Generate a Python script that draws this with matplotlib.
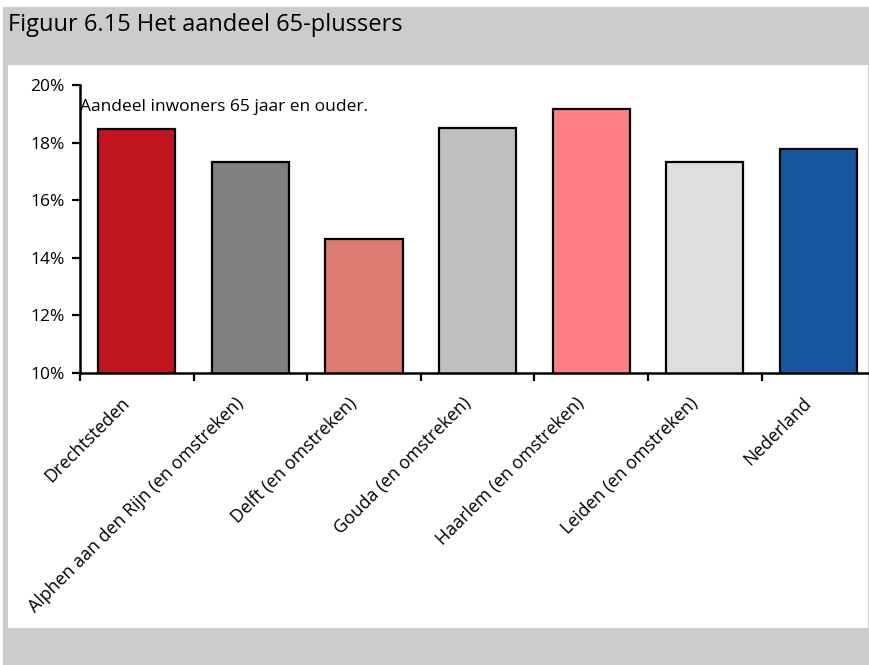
import matplotlib
matplotlib.use("Agg")
import matplotlib.pyplot as plt
from matplotlib.patches import Rectangle
from matplotlib.ticker import FuncFormatter
from matplotlib.transforms import ScaledTranslation

# Data
categories = [
    "Drechtsteden",
    "Alphen aan den Rijn (en omstreken)",
    "Delft (en omstreken)",
    "Gouda (en omstreken)",
    "Haarlem (en omstreken)",
    "Leiden (en omstreken)",
    "Nederland",
]
share_65plus = [18.46, 17.34, 14.66, 18.50, 19.18, 17.34, 17.79]
colors = ["#C0141E", "#808080", "#DC7B70", "#C0C0C0", "#FF8084", "#DEDEDE", "#17569C"]

plt.rcParams["font.family"] = ["Open Sans", "DejaVu Sans"]

W, H = 870, 665
fig = plt.figure(figsize=(W / 100, H / 100), dpi=100, facecolor="white")

# gray frame and white panel
fig.patches.append(Rectangle((3 / W, 0), 1 - 3 / W, 1 - 7 / H, transform=fig.transFigure,
                             facecolor="#CCCCCC", edgecolor="none", zorder=-2))
fig.patches.append(Rectangle((8 / W, 1 - 628 / H), 860 / W, (628 - 65) / H, transform=fig.transFigure,
                             facecolor="white", edgecolor="none", zorder=-1))
fig.text(8 / W, 1 - 25 / H, "Figuur 6.15 Het aandeel 65-plussers", fontsize=17,
         ha="left", va="center", color="black")

ax = fig.add_axes([80 / W, 1 - 373 / H, 788 / W, 288 / H], zorder=2)
ax.set_facecolor("none")
x = list(range(len(categories)))
ax.bar(x, share_65plus, width=0.68, bottom=0, color=colors, edgecolor="black", linewidth=1.6, zorder=2)

ax.set_ylim(10, 20)
ax.set_xlim(-0.5, -0.5 + 788 / 113.6)
ax.set_yticks([10, 12, 14, 16, 18, 20])
ax.yaxis.set_major_formatter(FuncFormatter(lambda v, p: f"{v:.0f}%"))

# tick marks between categories, labels under bar centres
ax.set_xticks([i - 0.5 for i in x])
ax.set_xticklabels([])
lbl_tr = ax.get_xaxis_transform() + ScaledTranslation(-16 / 100, -21 / 100, fig.dpi_scale_trans)
for i, name in zip(x, categories):
    ax.text(i, 0, name, transform=lbl_tr, rotation=45, rotation_mode="anchor",
            ha="right", va="top", fontsize=12.8)

ax.tick_params(axis="x", which="major", direction="out", length=6, width=1.6)
ax.tick_params(axis="y", direction="out", length=6, width=1.6, labelsize=12.5, pad=5)

for s in ["top", "right"]:
    ax.spines[s].set_visible(False)
for s in ["left", "bottom"]:
    ax.spines[s].set_linewidth(1.8)
    ax.spines[s].set_zorder(3)

ax.text(0, 0.925, "Aandeel inwoners 65 jaar en ouder.", transform=ax.transAxes,
        ha="left", va="center", fontsize=12.5)

fig.savefig("out.png", dpi=100, facecolor=fig.get_facecolor())
